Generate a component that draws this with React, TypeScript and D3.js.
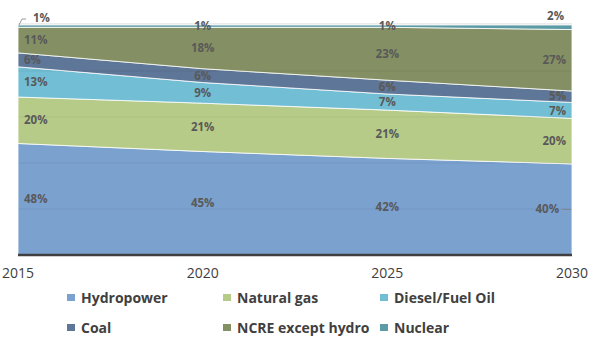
import React from "react";
import * as d3 from "d3";

const years = ["2015", "2020", "2025", "2030"];
const seriesNames = ["Hydropower", "Natural gas", "Diesel/Fuel Oil", "Coal", "NCRE except hydro", "Nuclear"];
const hydropower = [48, 45, 42, 40];
const naturalGas = [20, 21, 21, 20];
const diesel = [13, 9, 7, 7];
const coal = [6, 6, 6, 5];
const ncre = [11, 18, 23, 27];
const nuclear = [1, 1, 1, 2];
const colors = ["#7BA1CF", "#B6CB88", "#72BED4", "#5E7697", "#849063", "#5C9BA5"];

const W = 593, H = 344;
const left = 18, right = 572, top = 25, bottom = 255;

export default function App() {
  const values = [hydropower, naturalGas, diesel, coal, ncre, nuclear];
  const rows = years.map((y, i) => {
    const r: any = { year: y };
    seriesNames.forEach((s, k) => (r[s] = values[k][i]));
    return r;
  });
  const stack = d3.stack<any>().keys(seriesNames).offset(d3.stackOffsetExpand);
  const layers = stack(rows);
  const x = d3.scalePoint<string>().domain(years).range([left, right]);
  const y = d3.scaleLinear().domain([0, 1]).range([bottom, top]);
  const area = d3
    .area<any>()
    .x((d) => x(d.data.year)!)
    .y0((d) => y(d[0]))
    .y1((d) => y(d[1]));
  const grid = [0.2, 0.4, 0.6, 0.8, 1.0];
  const font = "'Open Sans', 'Liberation Sans', Arial, sans-serif";
  const labels: any[] = [];
  layers.forEach((layer, k) => {
    layer.forEach((d, i) => {
      const v = values[k][i];
      let lx = x(years[i])!;
      let ly = (y(d[0]) + y(d[1])) / 2;
      let anchor = "middle";
      if (i === 0) { lx = left + 6; anchor = "start"; }
      if (i === years.length - 1) { lx = right - 6; anchor = "end"; }
      let leader: string | null = null;
      let fixed = false;
      if (k === seriesNames.length - 1 && i === 0) {
        lx = left + 15; ly = 18; anchor = "start"; fixed = true;
        leader = `M${left + 1},${top}L${left + 4},${ly + 1}L${left + 8},${ly + 1}`;
      }
      if (k === seriesNames.length - 1 && i === years.length - 1) {
        lx = right - 8; ly = 16; anchor = "end"; fixed = true;
      }
      if (k === 0 && i === years.length - 1) {
        lx = right - 13;
      }
      labels.push({ key: `${k}-${i}`, k, i, lx, ly, anchor, text: `${v}%`, leader, fixed });
    });
  });
  // separate crowded labels in each column (push coal labels up a bit)
  const minGap = 15.5;
  years.forEach((_, i) => {
    const col = labels.filter((l) => l.i === i).sort((a, b) => b.ly - a.ly);
    for (let j = 1; j < col.length; j++) {
      const lower = col[j - 1], upper = col[j];
      const gap = lower.ly - upper.ly;
      if (gap < minGap && !upper.fixed) {
        const need = minGap - gap;
        lower.ly += need / 2;
        upper.ly -= need / 2;
      }
    }
  });
  labels.forEach((l) => {
    if (l.k === 0 && l.i === years.length - 1) {
      l.leader = `M${right - 10},${l.ly}L${right - 1},${l.ly}`;
    }
  });
  const legendItems = [
    { name: seriesNames[0], c: colors[0], lx: 67, ly: 298 },
    { name: seriesNames[1], c: colors[1], lx: 223, ly: 298 },
    { name: seriesNames[2], c: colors[2], lx: 380, ly: 298 },
    { name: seriesNames[3], c: colors[3], lx: 67, ly: 328 },
    { name: seriesNames[4], c: colors[4], lx: 223, ly: 328 },
    { name: seriesNames[5], c: colors[5], lx: 380, ly: 328 },
  ];
  return (
    <svg width={W} height={H} style={{ position: "absolute", left: 0, top: 0 }} fontFamily={font}>
      <rect width={W} height={H} fill="#fff" />
      <line x1={left} x2={right} y1={y(1) - 1} y2={y(1) - 1} stroke="#D9D9D9" />
      {layers.map((layer, k) => (
        <path key={k} d={area(layer as any)!} fill={colors[k]} stroke="#fff" strokeWidth={1} strokeOpacity={0.8} />
      ))}
      {grid.slice(0, 4).map((g) => (
        <line key={g} x1={left} x2={right} y1={y(g)} y2={y(g)} stroke="#000" strokeOpacity={0.06} />
      ))}
      <line x1={left} x2={right} y1={bottom} y2={bottom} stroke="#404040" strokeWidth={2.5} />
      {years.map((yr) => (
        <text key={yr} x={x(yr)} y={278} textAnchor="middle" fontSize={14} fill="#404040">{yr}</text>
      ))}
      {labels.map((l) => (
        <g key={l.key}>
          {l.leader && <path d={l.leader} fill="none" stroke="#808080" strokeWidth={0.8} />}
          <text x={l.lx} y={l.ly} dy="0.35em" textAnchor={l.anchor} fontSize={11.5} fontWeight="bold" fill="#595959">{l.text}</text>
        </g>
      ))}
      {legendItems.map((it) => (
        <g key={it.name}>
          <rect x={it.lx} y={it.ly - 4} width={8} height={7} fill={it.c} />
          <text x={it.lx + 14} y={it.ly} dy="0.35em" fontSize={14} fontWeight="bold" fill="#404040">{it.name}</text>
        </g>
      ))}
    </svg>
  );
}
